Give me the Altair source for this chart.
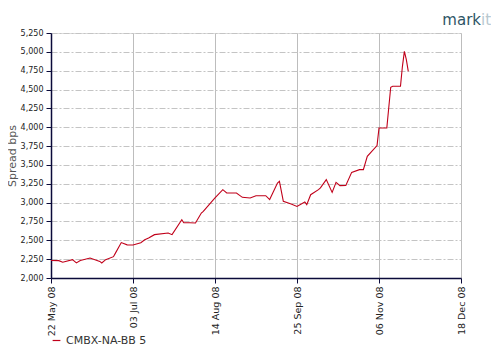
import altair as alt
import pandas as pd

dates = [
    "2008-05-22", "2008-05-26", "2008-05-28", "2008-06-02", "2008-06-04", "2008-06-06",
    "2008-06-11", "2008-06-16", "2008-06-17", "2008-06-19", "2008-06-23", "2008-06-24",
    "2008-06-27", "2008-06-30", "2008-07-03", "2008-07-07", "2008-07-09", "2008-07-11",
    "2008-07-14", "2008-07-21", "2008-07-23", "2008-07-28", "2008-07-29", "2008-08-01",
    "2008-08-04", "2008-08-07", "2008-08-08", "2008-08-11", "2008-08-14", "2008-08-18",
    "2008-08-20", "2008-08-25", "2008-08-28", "2008-09-01", "2008-09-04", "2008-09-09",
    "2008-09-11", "2008-09-15", "2008-09-16", "2008-09-18", "2008-09-22", "2008-09-25",
    "2008-09-29", "2008-09-30", "2008-10-02", "2008-10-06", "2008-10-07", "2008-10-10",
    "2008-10-13", "2008-10-15", "2008-10-17", "2008-10-20", "2008-10-23", "2008-10-27",
    "2008-10-29", "2008-10-31", "2008-11-05", "2008-11-06", "2008-11-10", "2008-11-12",
    "2008-11-13", "2008-11-17", "2008-11-18", "2008-11-19", "2008-11-20", "2008-11-21",
]
spreads = [
    2233, 2230, 2210, 2243, 2200, 2233,
    2265, 2220, 2200, 2243, 2283, 2330,
    2470, 2440, 2437, 2468, 2508, 2530,
    2575, 2597, 2575, 2773, 2733, 2733,
    2730, 2862, 2884, 2973, 3062, 3172,
    3128, 3128, 3070, 3062, 3092, 3092,
    3040, 3260, 3282, 3017, 2982, 2950,
    3008, 2973, 3105, 3172, 3195, 3305,
    3136, 3268, 3225, 3229, 3401, 3437,
    3437, 3614, 3756, 3990, 3990, 4530,
    4543, 4543, 4808, 5007, 4897, 4742,
]
series_name = "CMBX-NA-BB 5"
x_tick_dates = ["2008-05-22", "2008-07-03", "2008-08-14", "2008-09-25", "2008-11-06", "2008-12-18"]
y_ticks = list(range(2000, 5251, 250))

df = pd.DataFrame({"date": pd.to_datetime(dates), "spread": spreads, "series": series_name})

tick_vals = [alt.DateTime(year=int(d[:4]), month=int(d[5:7]), date=int(d[8:10])) for d in x_tick_dates]

line = alt.Chart(df).mark_line(color="#c0001a", strokeWidth=1.1).encode(
    x=alt.X(
        "date:T",
        scale=alt.Scale(domain=[tick_vals[0], tick_vals[-1]]),
        axis=alt.Axis(
            values=tick_vals, format="%d %b %y", labelAngle=-90, title=None,
            grid=True, gridColor="#bdbdbd", gridWidth=1,
            domainColor="#0a0a3a", domainWidth=1.5, tickColor="#0a0a3a", tickSize=5,
            labelFont="DejaVu Sans", labelFontSize=9.5, labelColor="#222",
            labelPadding=3, labelAlign="right", labelBaseline="middle",
        ),
    ),
    y=alt.Y(
        "spread:Q",
        scale=alt.Scale(domain=[2000, 5250], nice=False, zero=False),
        axis=alt.Axis(
            values=y_ticks, format=",.0f", title="Spread bps",
            grid=True, gridColor="#c4c4c4", gridDash=[6, 2, 2, 2], gridWidth=1,
            domainColor="#0a0a3a", domainWidth=1.5, tickColor="#0a0a3a", tickSize=5,
            labelFont="DejaVu Sans", labelFontSize=8, labelColor="#222", labelPadding=3,
            titleFont="DejaVu Sans", titleFontSize=11, titleFontWeight="normal",
            titleColor="#555", titlePadding=3,
        ),
    ),
    stroke=alt.Stroke(
        "series:N",
        scale=alt.Scale(range=["#c0001a"]),
        legend=alt.Legend(
            title=None, orient="none", legendX=0, legendY=302, symbolType="stroke",
            symbolSize=60, symbolStrokeWidth=1.2, labelFont="DejaVu Sans", labelFontSize=11,
            labelColor="#333", labelOffset=4,
        ),
    ),
)

logo = alt.Chart(pd.DataFrame({"t": ["mark"], "u": ["it"]}))
logo_a = logo.mark_text(
    font="DejaVu Sans", fontSize=15, color="#2e5566", align="right", baseline="alphabetic"
).encode(text="t:N", x=alt.value(430), y=alt.value(-8))
logo_b = logo.mark_text(
    font="DejaVu Sans", fontSize=15, color="#b8c8d0", align="left", baseline="alphabetic"
).encode(text="u:N", x=alt.value(430), y=alt.value(-8))

chart = alt.layer(line, logo_a, logo_b).properties(
    width=410, height=245,
    autosize=alt.AutoSizeParams(type="none"),
    padding={"left": 43, "top": 25, "right": 30, "bottom": 80},
).configure_view(fill="#ececec", stroke=None).configure(background="white")

chart.save("out.html", embed_options={"renderer": "svg", "actions": False})
